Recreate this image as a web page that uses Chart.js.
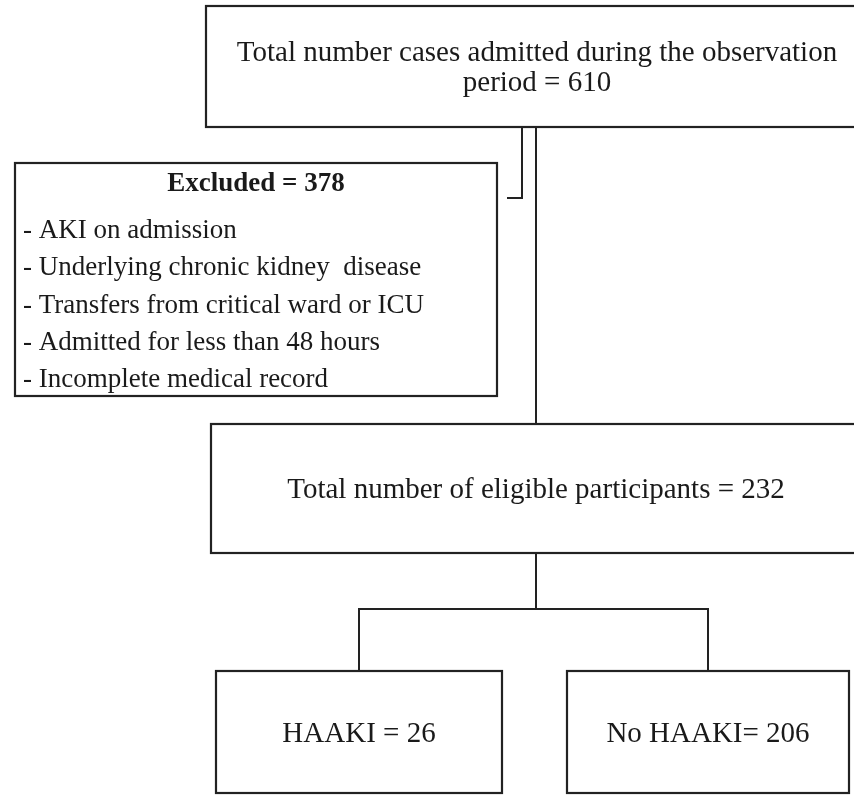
<!DOCTYPE html>
<html>
<head>
<meta charset="utf-8">
<script src="https://cdn.jsdelivr.net/npm/chart.js@4.4.1/dist/chart.umd.min.js"></script>
<style>
html,body{margin:0;padding:0;background:#fff;}
#wrap{width:854px;height:795px;}
</style>
</head>
<body>
<div id="wrap"><canvas id="c" width="854" height="795"></canvas></div>
<script>
// ---- data ----
const admittedTotal = 610;
const excludedTotal = 378;
const eligibleTotal = 232;
const groupLabels = ['HAAKI', 'No HAAKI'];
const groupCounts = [26, 206];
const exclusionReasons = [
  'AKI on admission',
  'Underlying chronic kidney  disease',
  'Transfers from critical ward or ICU',
  'Admitted for less than 48 hours',
  'Incomplete medical record'
];

// ---- layout (in scale units) ----
const layout = {
  top:      {x0: 206, x1: 870, y0: 6,   y1: 127, lines: [61, 91], cx: 537},
  excluded: {x0: 15,  x1: 497, y0: 163, y1: 396, head: 191, first: 238, step: 37.3, tx: 23},
  eligible: {x0: 211, x1: 870, y0: 424, y1: 553, base: 498, cx: 536},
  groups:   [{x0: 216, x1: 502, y0: 671, y1: 793, cx: 359, base: 742},
             {x0: 567, x1: 849, y0: 671, y1: 793, cx: 708, base: 742}],
  trunkX: 536, sideX: 522, sideY: 198, sideEnd: 507, branchY: 609
};

const flowPlugin = {
  id: 'flow',
  afterDraw(chart) {
    const ctx = chart.ctx;
    const xs = chart.scales.x, ys = chart.scales.y;
    const X = v => xs.getPixelForValue(v);
    const Y = v => ys.getPixelForValue(v);
    ctx.save();
    ctx.strokeStyle = '#222';
    ctx.fillStyle = '#1a1a1a';
    ctx.lineWidth = 2.2;
    const rect = b => { ctx.strokeRect(X(b.x0), Y(b.y0), X(b.x1) - X(b.x0), Y(b.y1) - Y(b.y0)); };
    const line = pts => {
      ctx.beginPath();
      pts.forEach((p, i) => i ? ctx.lineTo(X(p[0]), Y(p[1])) : ctx.moveTo(X(p[0]), Y(p[1])));
      ctx.stroke();
    };
    // boxes
    rect(layout.top); rect(layout.excluded); rect(layout.eligible);
    layout.groups.forEach(rect);
    // connectors
    ctx.lineWidth = 2;
    line([[layout.trunkX, layout.top.y1], [layout.trunkX, layout.eligible.y0]]);
    line([[layout.sideX, layout.top.y1], [layout.sideX, layout.sideY], [layout.sideEnd, layout.sideY]]);
    line([[layout.trunkX, layout.eligible.y1], [layout.trunkX, layout.branchY]]);
    line([[layout.groups[0].cx, layout.groups[0].y0], [layout.groups[0].cx, layout.branchY],
          [layout.groups[1].cx, layout.branchY], [layout.groups[1].cx, layout.groups[1].y0]]);
    // texts
    ctx.textBaseline = 'alphabetic';
    ctx.textAlign = 'center';
    ctx.font = '29px "Liberation Serif", "Times New Roman", serif';
    ctx.fillText('Total number cases admitted during the observation', X(layout.top.cx), Y(layout.top.lines[0]));
    ctx.fillText('period = ' + admittedTotal, X(layout.top.cx), Y(layout.top.lines[1]));
    ctx.fillText('Total number of eligible participants = ' + eligibleTotal, X(layout.eligible.cx), Y(layout.eligible.base));
    ctx.fillText(groupLabels[0] + ' = ' + groupCounts[0], X(layout.groups[0].cx), Y(layout.groups[0].base));
    ctx.fillText(groupLabels[1] + '= ' + groupCounts[1], X(layout.groups[1].cx), Y(layout.groups[1].base));
    const ex = layout.excluded;
    ctx.font = 'bold 27px "Liberation Serif", "Times New Roman", serif';
    ctx.fillText('Excluded = ' + excludedTotal, X((ex.x0 + ex.x1) / 2), Y(ex.head));
    ctx.textAlign = 'left';
    ctx.font = '27px "Liberation Serif", "Times New Roman", serif';
    exclusionReasons.forEach((r, i) => ctx.fillText('- ' + r, X(ex.tx), Y(ex.first + i * ex.step)));
    ctx.restore();
  }
};

new Chart(document.getElementById('c'), {
  type: 'scatter',
  data: { datasets: [{ data: [], pointRadius: 0 }] },
  options: {
    responsive: false,
    animation: false,
    layout: { padding: 0 },
    plugins: { legend: { display: false }, tooltip: { enabled: false }, title: { display: false } },
    scales: {
      x: { type: 'linear', min: 0, max: 854, display: false },
      y: { type: 'linear', min: 0, max: 795, reverse: true, display: false }
    }
  },
  plugins: [flowPlugin]
});
</script>
</body>
</html>
